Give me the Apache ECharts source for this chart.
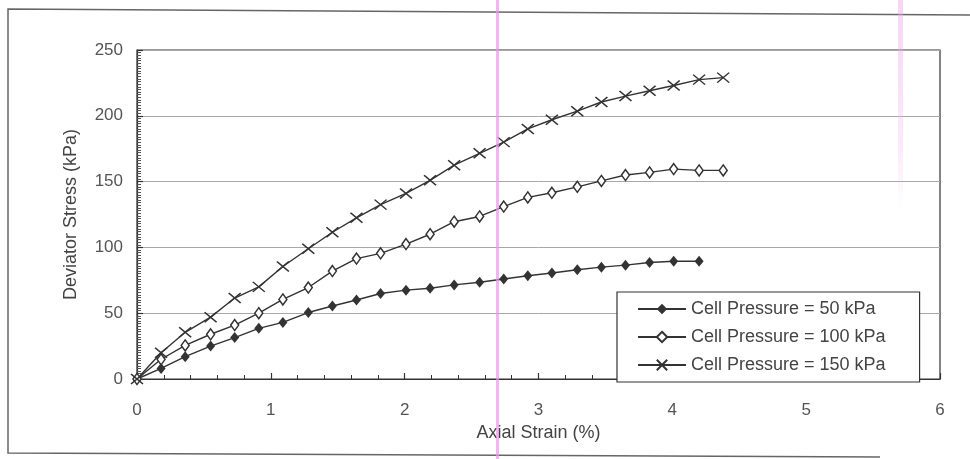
<!DOCTYPE html>
<html>
<head>
<meta charset="utf-8">
<script src="https://cdn.jsdelivr.net/npm/echarts@6/dist/echarts.min.js"></script>
<style>
  html, body { margin: 0; padding: 0; background: #fff; }
  #chart { width: 970px; height: 459px; }
</style>
</head>
<body>
<div id="chart"></div>
<script>
// Axial strain (%) at each reading
const strain = [0, 0.18, 0.36, 0.55, 0.73, 0.91, 1.09, 1.28, 1.46, 1.64, 1.82, 2.01, 2.19,
                2.37, 2.56, 2.74, 2.92, 3.10, 3.29, 3.47, 3.65, 3.83, 4.01, 4.20, 4.38];

// Deviator stress (kPa) for each cell pressure
const stress50  = [0, 8, 17, 25, 31.5, 38.5, 43, 50.5, 55.5, 60, 65, 67.5, 69, 71.5, 73.5,
                   76, 78.5, 80.5, 83, 85, 86.5, 88.5, 89.5, 89.5];
const stress100 = [0, 15, 25.5, 34, 41, 50, 60.5, 69.5, 82, 91.5, 95.5, 102.5, 110, 119.5,
                   123.5, 131, 138, 141.5, 146, 150.5, 155, 157, 159.5, 158.5, 158.5];
const stress150 = [0, 20, 35.5, 47, 61.5, 70, 85.5, 99, 111.5, 122.5, 132.5, 141, 151, 162.5,
                   171.5, 180, 190, 197, 203.5, 210.5, 215, 219, 223, 227.5, 229];

const seriesNames = ['Cell Pressure = 50 kPa', 'Cell Pressure = 100 kPa', 'Cell Pressure = 150 kPa'];
const xTicks = [0, 1, 2, 3, 4, 5, 6];
const yTicks = [0, 50, 100, 150, 200, 250];

const ink = '#333';
const font = 'Liberation Sans, Arial, sans-serif';

function pairs(ys) {
  return ys.map((y, i) => [strain[i], y]);
}

const chart = echarts.init(document.getElementById('chart'), null, { renderer: 'canvas' });

chart.setOption({
  backgroundColor: '#fff',
  animation: false,
  textStyle: { fontFamily: font },
  grid: {
    left: 137, top: 50, right: 30, bottom: 80,
    show: true, borderColor: ink, borderWidth: 1.2, backgroundColor: 'transparent'
  },
  legend: {
    orient: 'vertical',
    left: 617, top: 292,
    padding: [8, 34, 8, 20],
    itemWidth: 48, itemHeight: 13, itemGap: 10,
    backgroundColor: '#fff',
    borderColor: ink, borderWidth: 1.2,
    textStyle: { fontSize: 18, color: '#444', fontFamily: font },
    data: seriesNames,
    z: 10
  },
  xAxis: {
    type: 'value',
    min: xTicks[0], max: xTicks[xTicks.length - 1], interval: 1,
    name: 'Axial Strain (%)',
    nameLocation: 'middle', nameGap: 34,
    nameTextStyle: { fontSize: 18, color: '#444', fontFamily: font },
    axisLine: { show: true, lineStyle: { color: ink, width: 1.2 } },
    axisTick: { show: true, inside: true, length: 6, lineStyle: { color: ink, width: 1.2 } },
    minorTick: { show: true, splitNumber: 5, length: 4, lineStyle: { color: ink, width: 1 } },
    axisLabel: { fontSize: 17, color: '#555', margin: 23, fontFamily: font },
    splitLine: { show: false }
  },
  yAxis: {
    type: 'value',
    min: yTicks[0], max: yTicks[yTicks.length - 1], interval: 50,
    name: 'Deviator Stress (kPa)',
    nameLocation: 'middle', nameGap: 57,
    nameTextStyle: { fontSize: 18, color: '#444', fontFamily: font },
    axisLine: { show: true, lineStyle: { color: ink, width: 1.2 } },
    axisTick: { show: true, inside: true, length: 6, lineStyle: { color: ink, width: 1.2 } },
    minorTick: { show: true, splitNumber: 25, length: 4, lineStyle: { color: '#555', width: 1 } },
    axisLabel: { fontSize: 17, color: '#555', margin: 14, fontFamily: font },
    splitLine: { show: true, lineStyle: { color: '#a8a8a8', width: 1 } }
  },
  series: [
    {
      name: seriesNames[0], type: 'line', data: pairs(stress50),
      symbol: 'diamond', symbolSize: [9, 11],
      itemStyle: { color: ink },
      lineStyle: { color: ink, width: 1.4 },
      z: 3
    },
    {
      name: seriesNames[1], type: 'line', data: pairs(stress100),
      symbol: 'diamond', symbolSize: [8, 11],
      itemStyle: { color: '#fff', borderColor: ink, borderWidth: 1.5 },
      lineStyle: { color: ink, width: 1.4 },
      z: 3
    },
    {
      name: seriesNames[2], type: 'line', data: pairs(stress150),
      symbol: 'path://M0,0L12,10M12,0L0,10', symbolSize: [12, 10],
      itemStyle: { color: 'rgba(0,0,0,0)', borderColor: ink, borderWidth: 1.5 },
      lineStyle: { color: ink, width: 1.4 },
      z: 3
    }
  ],
  graphic: [
    // page frame around the figure
    { type: 'polyline', silent: true, z: 0,
      shape: { points: [[970, 15], [8, 9], [8, 453], [880, 457]] },
      style: { stroke: '#666', lineWidth: 1.5, fill: null } },
    // pink marker strokes on the page
    { type: 'rect', silent: true, z: 100,
      shape: { x: 496, y: 0, width: 3, height: 459 },
      style: { fill: 'rgba(236,150,232,0.7)' } },
    { type: 'rect', silent: true, z: 100,
      shape: { x: 898, y: 0, width: 5, height: 210 },
      style: { fill: { type: 'linear', x: 0, y: 0, x2: 0, y2: 1,
        colorStops: [{ offset: 0, color: 'rgba(240,160,236,0.45)' },
                     { offset: 0.7, color: 'rgba(240,170,236,0.25)' },
                     { offset: 1, color: 'rgba(240,170,236,0)' }] } } }
  ]
});
</script>
</body>
</html>
